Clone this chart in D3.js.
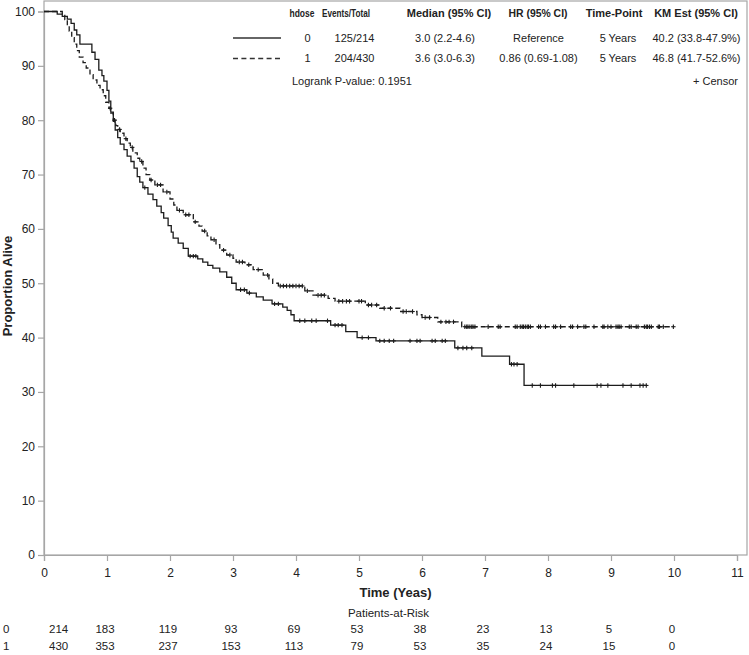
<!DOCTYPE html>
<html><head><meta charset="utf-8">
<script src="https://cdn.jsdelivr.net/npm/d3@7"></script>
<style>
html,body{margin:0;padding:0;background:#fff;}
text{font-family:"Liberation Sans",Arial,sans-serif;fill:#222;}
</style></head>
<body>
<svg id="chart" width="749" height="655"></svg>
<script>
// ---------- data ----------
const xTicks = [0,1,2,3,4,5,6,7,8,9,10,11];
const yTicks = [0,10,20,30,40,50,60,70,80,90,100];

// group 0 (solid): step times (years) and survival (%) after each step
const times0 = [0,0.21,0.29,0.37,0.43,0.48,0.52,0.57,0.76,0.81,0.87,0.92,0.95,1.00,1.03,1.06,1.10,1.13,1.17,1.21,1.27,1.32,1.38,1.43,1.48,1.52,1.57,1.65,1.73,1.79,1.86,1.90,1.97,2.02,2.05,2.13,2.21,2.29,2.44,2.52,2.60,2.68,2.79,2.90,2.98,3.05,3.22,3.37,3.48,3.62,3.79,3.86,3.92,3.97,4.55,4.79,4.97,5.27,6.52,6.95,7.39,7.62];
const surv0  = [100,99.5,99.1,98.6,97.8,96.6,95.7,94.0,92.5,91.2,89.2,88.2,87.2,85.5,83.5,81.5,79.8,78.2,76.8,75.6,74.6,73.4,72.4,71.2,69.6,68.6,67.6,66.4,65.4,64.2,63.0,62.0,60.6,59.4,58.3,57.4,56.4,55.0,54.5,53.9,53.3,52.8,52.1,51.1,50.0,48.8,48.2,47.5,46.9,46.2,45.6,45.0,44.2,43.1,42.3,41.1,40.0,39.4,38.1,36.6,35.1,31.2];
const end0 = 9.57;
const censor0 = [1.60,2.32,2.37,2.41,3.12,3.18,3.26,3.66,3.72,4.06,4.14,4.25,4.32,4.50,4.62,4.67,4.73,5.05,5.15,5.33,5.40,5.48,5.55,5.81,5.92,5.97,6.16,6.21,6.32,6.37,6.57,6.65,6.71,6.79,7.42,7.46,7.51,7.75,7.88,8.07,8.12,8.41,8.78,8.84,8.95,9.19,9.32,9.46,9.51,9.56];

// group 1 (dashed)
const times1 = [0,0.29,0.33,0.37,0.40,0.44,0.48,0.52,0.56,0.62,0.67,0.73,0.78,0.84,0.89,0.94,0.98,1.03,1.06,1.10,1.14,1.17,1.21,1.27,1.32,1.37,1.41,1.48,1.52,1.57,1.62,1.68,1.76,1.89,2.00,2.06,2.11,2.21,2.37,2.46,2.51,2.59,2.65,2.73,2.79,2.90,3.00,3.05,3.19,3.32,3.48,3.57,3.63,3.72,4.14,4.27,4.51,4.62,5.10,5.33,5.65,5.92,6.00,6.25,6.63];
const surv1  = [100,99.3,98.5,97.6,96.4,95.2,94.0,92.8,91.6,90.6,89.6,88.4,87.4,86.4,85.6,84.5,83.3,82.2,81.3,80.0,79.0,78.3,77.6,76.6,75.8,75.0,74.0,73.0,72.4,71.2,70.0,69.0,68.1,66.8,65.5,64.4,63.4,62.6,61.3,60.5,59.6,58.7,58.0,57.1,56.1,55.2,54.6,53.9,53.4,52.5,51.5,50.8,50.0,49.5,48.6,47.8,47.2,46.7,46.0,45.4,44.8,44.2,43.7,42.9,42.0];
const end1 = 9.99;
const censor1 = [1.05,1.12,1.20,1.30,1.40,1.55,1.70,1.80,1.85,1.95,2.15,2.25,2.30,2.40,2.55,2.70,2.85,2.95,3.10,3.15,3.25,3.40,3.55,3.75,3.80,3.85,3.90,3.95,4.00,4.05,4.10,4.18,4.35,4.40,4.45,4.68,4.74,4.80,4.85,5.00,5.04,5.15,5.20,5.28,5.40,5.50,5.70,5.75,5.85,6.05,6.12,6.30,6.38,6.43,6.50,6.68,6.71,6.73,6.76,6.79,6.81,6.84,7.05,7.21,7.24,7.48,7.51,7.56,7.59,7.61,7.64,7.67,7.69,7.72,7.85,7.88,7.96,8.09,8.12,8.20,8.36,8.39,8.47,8.57,8.60,8.73,8.87,8.89,8.95,9.00,9.08,9.11,9.13,9.16,9.29,9.32,9.40,9.43,9.53,9.56,9.58,9.61,9.64,9.75,9.77,9.83,9.99];

// risk table
const riskTimes = [0,1,2,3,4,5,6,7,8,9,10];
const riskGroups = ["0","1"];
const risk0 = [214,183,119,93,69,53,38,23,13,5,0];
const risk1 = [430,353,237,153,113,79,53,35,24,15,0];

// legend table
const legendHeaders = ["hdose","Events/Total","Median (95% CI)","HR (95% CI)","Time-Point","KM Est (95% CI)"];
const legendRow0 = ["0","125/214","3.0 (2.2-4.6)","Reference","5 Years","40.2 (33.8-47.9%)"];
const legendRow1 = ["1","204/430","3.6 (3.0-6.3)","0.86 (0.69-1.08)","5 Years","46.8 (41.7-52.6%)"];
const logrankText = "Logrank P-value: 0.1951";

// ---------- layout ----------
const svg = d3.select("#chart");
const L = 44, R = 747, T = 1, B = 555;
const x = d3.scaleLinear().domain([0,11]).range([L, L + 63*11]);
const y = d3.scaleLinear().domain([0,100]).range([B, 11.5]);
const grey = "#a6a6a6";
const ink = "#1c1c1c";

// frame
svg.append("rect").attr("x",L).attr("y",T).attr("width",R-L).attr("height",B-T)
  .attr("fill","none").attr("stroke",grey).attr("stroke-width",1.2);

// axes
const xAxis = svg.append("g").attr("transform",`translate(0,${B})`)
  .call(d3.axisBottom(x).tickValues(xTicks).tickSize(6).tickPadding(7).tickFormat(d3.format("d")));
const yAxis = svg.append("g").attr("transform",`translate(${L},0)`)
  .call(d3.axisLeft(y).tickValues(yTicks).tickSize(6).tickPadding(3).tickFormat(d3.format("d")));
[xAxis,yAxis].forEach(g=>{
  g.select(".domain").attr("stroke",grey).attr("stroke-width",1.2);
  g.selectAll(".tick line").attr("stroke",grey).attr("stroke-width",1.2);
  g.selectAll(".tick text").attr("fill","#222").style("font-size","12px")
    .style("font-family","'Liberation Sans',Arial,sans-serif");
});

// axis titles
svg.append("text").attr("x",(L+R)/2).attr("y",597).attr("text-anchor","middle")
  .style("font-size","13px").style("font-weight","bold").text("Time (Yeas)");
svg.append("text").attr("transform",`translate(12,${286}) rotate(-90)`).attr("text-anchor","middle")
  .style("font-size","13px").style("font-weight","bold").text("Proportion Alive");

// curves
function stepPts(times, surv, end){
  const pts = times.map((t,i)=>[t,surv[i]]);
  pts.push([end, surv[surv.length-1]]);
  return pts;
}
function survAt(times, surv, t){
  const i = d3.bisectRight(times, t) - 1;
  return surv[Math.max(0,i)];
}
const line = d3.line().x(d=>x(d[0])).y(d=>y(d[1])).curve(d3.curveStepAfter);

svg.append("path").datum(stepPts(times1,surv1,end1)).attr("d",line)
  .attr("fill","none").attr("stroke",ink).attr("stroke-width",1.3).attr("stroke-dasharray","5,3");
svg.append("path").datum(stepPts(times0,surv0,end0)).attr("d",line)
  .attr("fill","none").attr("stroke",ink).attr("stroke-width",1.3);

const cs = 2.2;
function drawCensor(list, times, surv){
  const g = svg.append("g").attr("stroke",ink).attr("stroke-width",1.1);
  list.forEach(t=>{
    const cx = x(t), cy = y(survAt(times,surv,t));
    g.append("line").attr("x1",cx-cs).attr("x2",cx+cs).attr("y1",cy).attr("y2",cy);
    g.append("line").attr("x1",cx).attr("x2",cx).attr("y1",cy-cs).attr("y2",cy+cs);
  });
}
drawCensor(censor0, times0, surv0);
drawCensor(censor1, times1, surv1);

// legend
const headX = [302,346,449,538,614,696];
const headW = [25,48,87,59,59,88];
const rowX = [307.5,354.5,445,538.5,618,696.5];
const lg = svg.append("g").style("font-size","11px");
legendHeaders.forEach((h,i)=>{
  const t = lg.append("text").attr("x",headX[i]).attr("y",17)
    .attr("text-anchor","middle").style("font-weight","bold").text(h);
  const w = t.node().getComputedTextLength();
  if (w > headW[i]) t.attr("textLength",headW[i]).attr("lengthAdjust","spacingAndGlyphs");
});
legendRow0.forEach((h,i)=>lg.append("text").attr("x",rowX[i]).attr("y",42)
  .attr("text-anchor","middle").text(h));
legendRow1.forEach((h,i)=>lg.append("text").attr("x",rowX[i]).attr("y",62)
  .attr("text-anchor","middle").text(h));
lg.append("line").attr("x1",233).attr("x2",281).attr("y1",38).attr("y2",38)
  .attr("stroke","#333").attr("stroke-width",1.3);
lg.append("line").attr("x1",233).attr("x2",281).attr("y1",58.5).attr("y2",58.5)
  .attr("stroke","#333").attr("stroke-width",1.3).attr("stroke-dasharray","5,3.4");
lg.append("text").attr("x",292).attr("y",85).text(logrankText);
lg.append("text").attr("x",738).attr("y",85).attr("text-anchor","end").text("+  Censor");

// risk table
svg.append("text").attr("x",(L+R)/2 - 7).attr("y",617).attr("text-anchor","middle")
  .style("font-size","11.5px").text("Patients-at-Risk");
const rt = svg.append("g").style("font-size","11.5px");
[risk0,risk1].forEach((row,r)=>{
  const yy = 633 + r*16.5;
  rt.append("text").attr("x",3).attr("y",yy).text(riskGroups[r]);
  row.forEach((v,i)=>{
    const t = riskTimes[i];
    rt.append("text").attr("x", i===0 ? x(t)+5 : x(t)-2).attr("y",yy)
      .attr("text-anchor", i===0 ? "start" : "middle").text(v);
  });
});
</script>
</body></html>
